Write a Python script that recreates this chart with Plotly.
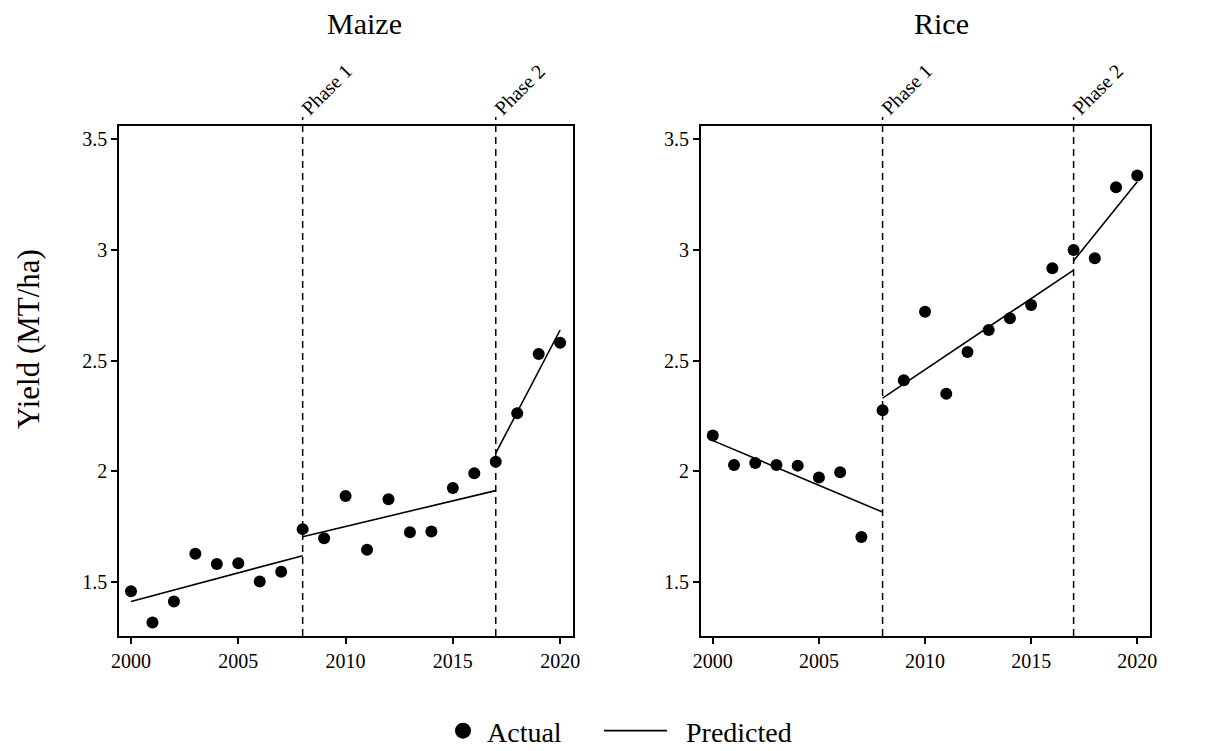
import plotly.graph_objects as go

years = list(range(2000, 2021))
maize_actual = [1.457, 1.316, 1.411, 1.627, 1.580, 1.584, 1.501, 1.545, 1.738, 1.697, 1.888,
                1.645, 1.873, 1.724, 1.727, 1.924, 1.991, 2.043, 2.262, 2.530, 2.580]
rice_actual = [2.161, 2.028, 2.037, 2.028, 2.025, 1.971, 1.995, 1.702, 2.275, 2.411, 2.720,
               2.350, 2.539, 2.638, 2.691, 2.751, 2.917, 3.000, 2.962, 3.283, 3.336]

# predicted piecewise-linear segments (start year, end year) per phase
phase_years = [[2000, 2008], [2008, 2017], [2017, 2020]]
maize_pred = [[1.411, 1.618], [1.704, 1.912], [2.081, 2.638]]
rice_pred = [[2.138, 1.815], [2.330, 2.909], [2.951, 3.308]]

phase_breaks = [2008, 2017]
phase_labels = ["Phase 1", "Phase 2"]
crops = ["Maize", "Rice"]
y_ticks = [1.5, 2, 2.5, 3, 3.5]
y_ticktext = ["1.5", "2", "2.5", "3", "3.5"]
x_ticks = [2000, 2005, 2010, 2015, 2020]

FONT = "Liberation Serif"
OFF = 8  # page body margin
W, H = 1206 - OFF, 751 - OFF


def px(x):
    return (x - OFF) / W


def py(y):
    return 1 - (y - OFF) / H


fig = go.Figure()

panels = [("x", "y", maize_actual, maize_pred), ("x2", "y2", rice_actual, rice_pred)]
for xa, ya, act, pred in panels:
    fig.add_trace(go.Scatter(x=years, y=act, mode="markers", xaxis=xa, yaxis=ya,
                             marker=dict(color="black", size=12), showlegend=False))
    for yrs, vals in zip(phase_years, pred):
        fig.add_trace(go.Scatter(x=yrs, y=vals, mode="lines", xaxis=xa, yaxis=ya,
                                 line=dict(color="black", width=1.6), showlegend=False))

# legend entries
fig.add_trace(go.Scatter(x=[None], y=[None], mode="markers", name="Actual",
                         marker=dict(color="black", size=17), legend="legend"))
fig.add_trace(go.Scatter(x=[None], y=[None], mode="lines", name="\u00a0\u00a0Predicted",
                         line=dict(color="black", width=1.8), legend="legend2"))

ydom = [py(636), py(126)]
xdoms = [[px(119), px(573)], [px(700.7), px(1150)]]

axis_common = dict(showline=True, mirror=True, linecolor="black", linewidth=1.5,
                   ticks="outside", ticklen=6, tickwidth=1.5, tickcolor="black",
                   showgrid=False, zeroline=False, automargin=False,
                   tickfont=dict(family=FONT, size=20, color="black"))

fig.update_layout(
    width=W, height=H, margin=dict(l=0, r=0, t=0, b=0, autoexpand=False),
    plot_bgcolor="white", paper_bgcolor="white",
    font=dict(family=FONT, color="black"),
    xaxis=dict(domain=xdoms[0], range=[1999.44, 2020.6], tickvals=x_ticks, anchor="y", **axis_common),
    yaxis=dict(domain=ydom, range=[1.255, 3.56], tickvals=y_ticks, ticktext=y_ticktext, anchor="x", **axis_common),
    xaxis2=dict(domain=xdoms[1], range=[1999.43, 2020.6], tickvals=x_ticks, anchor="y2", **axis_common),
    yaxis2=dict(domain=ydom, range=[1.255, 3.56], tickvals=y_ticks, ticktext=y_ticktext, anchor="x2", **axis_common),
    legend=dict(orientation="h", x=px(439), xanchor="left", y=py(731), yanchor="middle",
                font=dict(family=FONT, size=28), itemwidth=38, bgcolor="rgba(0,0,0,0)"),
    legend2=dict(orientation="h", x=px(599), xanchor="left", y=py(731), yanchor="middle",
                 font=dict(family=FONT, size=28), itemwidth=63, bgcolor="rgba(0,0,0,0)"),
)

line_top = py(117)
for xa in ["x", "x2"]:
    for b, lab in zip(phase_breaks, phase_labels):
        fig.add_shape(type="line", xref=xa, yref="paper", x0=b, x1=b, y0=ydom[0], y1=line_top,
                      line=dict(color="black", width=1.5, dash="7px,5px"))
        fig.add_annotation(x=b, xref=xa, y=line_top, yref="paper", text=lab, textangle=-45,
                           xanchor="left", yanchor="bottom", xshift=-8, yshift=-5, showarrow=False,
                           font=dict(family=FONT, size=20, color="black"))

title_x = [px(365), px(941)]
for tx, name in zip(title_x, crops):
    fig.add_annotation(x=tx, xref="paper", y=py(23), yref="paper", text=name,
                       showarrow=False, xanchor="center", yanchor="middle",
                       font=dict(family=FONT, size=30, color="black"))

fig.add_annotation(x=px(28), xref="paper", y=py(339), yref="paper", text="Yield (MT/ha)",
                   textangle=-90, showarrow=False, xanchor="center", yanchor="middle",
                   font=dict(family=FONT, size=31, color="black"))

fig.write_html("out.html")
